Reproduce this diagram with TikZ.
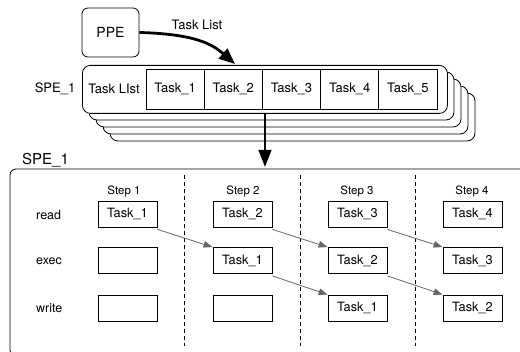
\documentclass[tikz,border=0pt]{standalone}
\usepackage{fontspec}
\setmainfont{TeX Gyre Heros}
\usetikzlibrary{arrows.meta}
\begin{document}
\begin{tikzpicture}[x=1pt,y=-1pt,
  cell/.style={draw,line width=0.8pt,inner sep=0pt,minimum width=58.2pt,minimum height=40pt,font=\fontsize{13}{15}\selectfont},
  taskbox/.style={draw,line width=0.8pt,inner sep=0pt,minimum width=59pt,minimum height=26pt,font=\fontsize{12.8}{15}\selectfont},
  lbl/.style={inner sep=0pt,font=\fontsize{13}{15}\selectfont},
  rowlbl/.style={inner sep=0pt,anchor=west,font=\fontsize{12.5}{14}\selectfont},
  steplbl/.style={inner sep=0pt,font=\fontsize{11.5}{13}\selectfont},
  stackbox/.style={draw,fill=white,line width=0.8pt,rounded corners=8pt},
  flow/.style={draw=black!60,line width=0.8pt,-{Triangle[length=9pt,width=6.5pt]}},
  sepline/.style={dash pattern=on 4pt off 3pt,line width=0.8pt},
  bigarrow/.style={line width=2.8pt,-{Triangle[length=16pt,width=13pt]}}
]
\useasboundingbox (0,0) rectangle (520,352);
% stack of SPE task lists
\foreach \d in {28,21,14,7}
  \draw[stackbox] (82+\d,65+\d) rectangle (447+\d,113+\d);
\node[stackbox,anchor=north west,inner sep=0pt,minimum width=365pt,minimum height=48pt] (spe) at (82,65) {};
\node[lbl] (spelabel) at (55,89) {SPE\_1};
\node[lbl] (tl) at (114,89) {Task LIst};
\node[cell] (c1) at (175.1,89) {Task\_1};
\node[cell] (c2) at (233.3,89) {Task\_2};
\node[cell] (c3) at (291.5,89) {Task\_3};
\node[cell] (c4) at (349.7,89) {Task\_4};
\node[cell] (c5) at (407.9,89) {Task\_5};
% PPE
\node[draw,line width=0.8pt,rounded corners=6pt,inner sep=0pt,minimum width=57pt,minimum height=49pt,font=\fontsize{14}{16}\selectfont] (ppe) at (110.5,32.5) {PPE};
\node[lbl] (tasklist) at (197,25) {Task List};
\coordinate (arrtip) at (235,64);
\draw[bigarrow] (ppe.east) .. controls (195,34) and (212,44) .. (arrtip);
% down arrow
\coordinate (dtop) at (265,113);
\coordinate (dbot) at (265,167);
\draw[bigarrow,line width=2.6pt,-{Triangle[length=17pt,width=12.5pt]}] (dtop) -- (dbot);
% SPE_1 detail box
\node[anchor=base west,inner sep=0pt,font=\fontsize{15}{17}\selectfont] (spetitle) at (22,165) {SPE\_1};
\draw[line width=0.8pt,rounded corners=6pt] (10,169) rectangle (530,356);
% dashed separators
\draw[sepline] (184.5,175) -- (184.5,346);
\draw[sepline] (300,175) -- (300,346);
\draw[sepline] (415,175) -- (415,346);
% steps
\node[steplbl] (s1) at (124,191) {Step 1};
\node[steplbl] (s2) at (243,191) {Step 2};
\node[steplbl] (s3) at (357,191) {Step 3};
\node[steplbl] (s4) at (472,191) {Step 4};
% row labels
\node[rowlbl] (lr) at (36,215) {read};
\node[rowlbl] (le) at (36,261) {exec};
\node[rowlbl] (lw) at (36,308) {write};
% boxes
\node[taskbox] (r1) at (127.5,214) {Task\_1};
\node[taskbox] (r2) at (242.5,214) {Task\_2};
\node[taskbox] (r3) at (357.5,214) {Task\_3};
\node[taskbox] (r4) at (472.5,214) {Task\_4};
\node[taskbox] (e1) at (127.5,260.5) {};
\node[taskbox] (e2) at (242.5,260.5) {Task\_1};
\node[taskbox] (e3) at (357.5,260.5) {Task\_2};
\node[taskbox] (e4) at (472.5,260.5) {Task\_3};
\node[taskbox] (w1) at (127.5,308) {};
\node[taskbox] (w2) at (242.5,308) {};
\node[taskbox] (w3) at (357.5,308) {Task\_1};
\node[taskbox] (w4) at (472.5,308) {Task\_2};
% flows
\draw[flow] ([yshift=-2pt]r1.south east) -- (e2.north west);
\draw[flow] ([yshift=-2pt]r2.south east) -- (e3.north west);
\draw[flow] ([yshift=-2pt]r3.south east) -- (e4.north west);
\draw[flow] ([yshift=-2pt]e2.south east) -- (w3.north west);
\draw[flow] ([yshift=-2pt]e3.south east) -- (w4.north west);
\end{tikzpicture}
\end{document}
